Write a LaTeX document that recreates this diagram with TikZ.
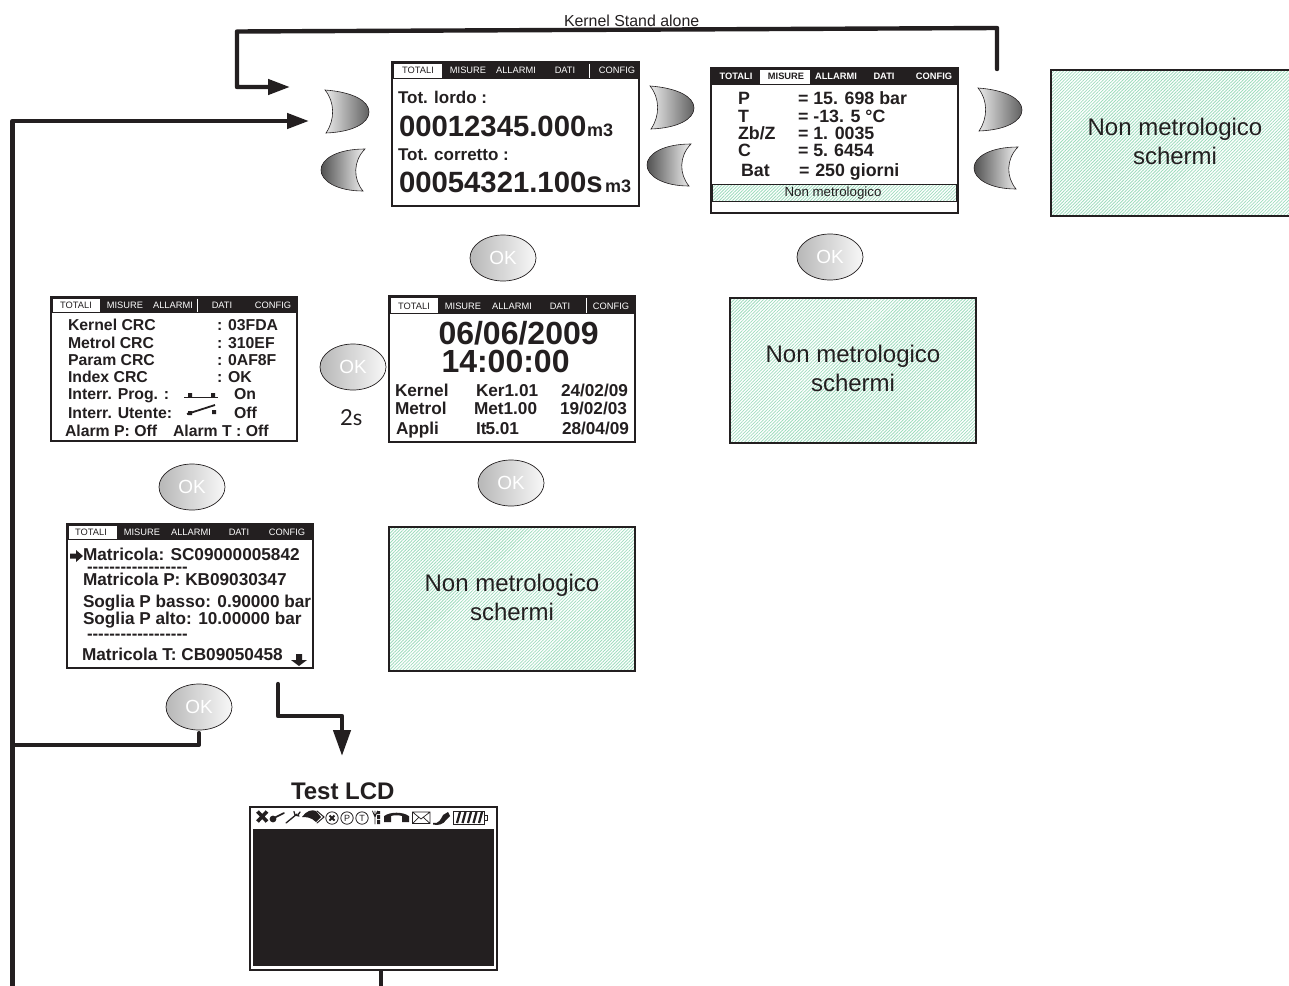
\documentclass[tikz,border=0pt]{standalone}
\usepackage{fontspec}
\setmainfont{Liberation Sans}
\newfontfamily\twosfont{Lato}
\usetikzlibrary{arrows.meta,patterns.meta,shapes.geometric}
\definecolor{ink}{HTML}{231F20}
\definecolor{hatchgreen}{HTML}{9FDCBE}
\newcounter{autoid}
\tikzset{
  x=1pt,y=-1pt,
  txt/.style={inner sep=0pt,outer sep=0pt,anchor=base west,text=ink},
  ctxt/.style={inner sep=0pt,outer sep=0pt,anchor=center},
  wire/.style={draw=ink,line width=4.4pt,line join=round,line cap=round},
  wirearrow/.style={wire,-{Triangle[length=22pt,width=15pt]}},
  screenbox/.style={draw=ink,line width=1.3pt,fill=white,inner sep=0pt,outer sep=0pt},
  hatch/.style={pattern={Lines[angle=45,distance=2.3pt,line width=.8pt]},pattern color=hatchgreen},
  okbtn/.style={shape=ellipse,draw=ink,line width=.7pt,left color=black!28,middle color=black!62,right color=black!3,
    minimum width=66pt,minimum height=46pt,inner sep=0pt,outer sep=0pt,text=white,font=\fontsize{19}{19}\selectfont},
  crescent/.style={draw=ink,line width=.6pt},
  icon/.style={draw=ink,line width=1pt,line cap=round},
}
% free text, baseline anchored
\newcommand{\T}[5][]{\stepcounter{autoid}\node[txt,font=\fontsize{#4}{#4}\selectfont#1] (t\theautoid) at (#2,#3) {#5};}
\newcommand{\B}[4]{\T[\bfseries]{#1}{#2}{#3}{#4}}
% tab label
\newcommand{\tb}[5][]{\stepcounter{autoid}\node[ctxt,text=#4,font=\fontsize{9.3}{9.3}\selectfont#1] (t\theautoid) at (#2,#3) {#5};}
% screen: name x1 y1 x2 y2 headerbottom tabx1 tabx2
\newcommand{\screen}[8]{%
  \pgfmathsetmacro{\scw}{#4-#2}\pgfmathsetmacro{\sch}{#5-#3}%
  \pgfmathsetmacro{\scx}{(#2+#4)/2}\pgfmathsetmacro{\scy}{(#3+#5)/2}%
  \node[screenbox,minimum width=\scw pt,minimum height=\sch pt] (#1) at (\scx,\scy) {};
  \fill[ink] (#2,#3) rectangle (#4,#6);
  \fill[white] (#7,#3+1.5) rectangle (#8,#6-1);
}
% crescents
\newcommand{\btnR}[3]{\path[crescent,left color=black!8,right color=black!62,shift={(#2,#3)}] (0,0) .. controls (28,2) and (44,11) .. (44,22) .. controls (44,33) and (28,42) .. (1,43) .. controls (10,30) and (10,12) .. (0,0) -- cycle;}
\newcommand{\btnL}[3]{\path[crescent,left color=black!68,right color=black!5,shift={(#2,#3)}] (0,0) .. controls (-28,0) and (-44,10) .. (-44,21) .. controls (-44,32) and (-28,42) .. (-2,42) .. controls (-12,30) and (-12,12) .. (0,0) -- cycle;}
\newcommand{\dashrow}{-{}-{}-{}-{}-{}-{}-{}-{}-{}-{}-{}-{}-{}-{}-{}-{}-{}-}
\begin{document}
\begin{tikzpicture}
\useasboundingbox (0,0) rectangle (1289,985);

% ---------- crescent buttons
\btnR{a1}{325}{90}\btnL{a2}{365}{149}
\btnR{b1}{650}{86}\btnL{b2}{691}{144}
\btnR{c1}{978}{88}\btnL{c2}{1018}{147}

% ---------- screen 1
\screen{s1}{392}{62}{639}{206}{79}{393.5}{442}
\tb{418}{70}{ink}{TOTALI}\tb{468}{70}{white}{MISURE}\tb{516}{70}{white}{ALLARMI}\tb{565}{70}{white}{DATI}\tb{617}{70}{white}{CONFIG}
\draw[white,line width=.8pt] (589,63.5) -- (589,77.5);
\B{398}{103}{17}{Tot. lordo :}
\B{399}{136}{29.3}{00012345.000}
\B{587}{136}{18}{m3}
\B{398}{160}{17}{Tot. corretto :}
\B{399}{192}{29.3}{00054321.100s}
\B{605}{192}{18}{m3}

% ---------- screen 2
\screen{s2}{711}{68}{958}{213}{85}{760}{810}
\tb[\bfseries]{736}{76}{white}{TOTALI}\tb[\bfseries]{786}{76}{ink}{MISURE}\tb[\bfseries]{836}{76}{white}{ALLARMI}\tb[\bfseries]{884}{76}{white}{DATI}\tb[\bfseries]{934}{76}{white}{CONFIG}
\B{738}{104}{17.8}{P}\B{798}{104}{17.8}{= 15. 698 bar}
\B{738}{122}{17.8}{T}\B{798}{122}{17.8}{= -13. 5 °C}
\B{738}{139}{17.8}{Zb/Z}\B{798}{139}{17.8}{= 1. 0035}
\B{738}{156}{17.8}{C}\B{798}{156}{17.8}{= 5.\,\,6454}
\B{741}{176}{17.8}{Bat}\B{799}{176}{17.8}{=\,\,250 giorni}
\draw[ink,line width=1pt,hatch] (712,184.5) rectangle (956,201);
\node[ctxt,text=ink,font=\fontsize{13.3}{13.3}\selectfont] (nmbar) at (833,193) {Non metrologico};

% ---------- screen 3
\screen{s3}{51}{297}{297}{441}{313}{52.5}{100}
\tb{76}{305}{ink}{TOTALI}\tb{125}{305}{white}{MISURE}\tb{173}{305}{white}{ALLARMI}\tb{222}{305}{white}{DATI}\tb{273}{305}{white}{CONFIG}
\draw[white,line width=.8pt] (197.5,298.5) -- (197.5,311.5);
\B{68}{330}{15.8}{Kernel CRC}\B{217}{330}{15.8}{: 03FDA}
\B{68}{348}{15.8}{Metrol CRC}\B{217}{348}{15.8}{: 310EF}
\B{68}{365}{15.8}{Param CRC}\B{217}{365}{15.8}{: 0AF8F}
\B{68}{382}{15.8}{Index CRC}\B{217}{382}{15.8}{: OK}
\B{68}{399}{15.8}{Interr. Prog. :}\B{234}{399}{15.8}{On}
\B{68}{418}{15.8}{Interr. Utente:}\B{234}{418}{15.8}{Off}
\B{65}{436}{15.8}{Alarm P: Off}\B{173}{436}{15.8}{Alarm T : Off}
\draw[ink,line width=1.8pt] (184,397.5) -- (218,397.5);
\fill[ink] (188,393) rectangle (192,397) (211,393) rectangle (215,397);
\draw[ink,line width=1.8pt] (187,414) -- (215,405);
\fill[ink] (188,411) rectangle (192,415) (212,410) rectangle (216,414);

% ---------- screen 4
\screen{s4}{389}{296}{635}{442}{314}{390.5}{438}
\tb{414}{306}{ink}{TOTALI}\tb{463}{306}{white}{MISURE}\tb{512}{306}{white}{ALLARMI}\tb{560}{306}{white}{DATI}\tb{611}{306}{white}{CONFIG}
\draw[white,line width=.8pt] (586,297.5) -- (586,312.5);
\B{438.5}{344}{32}{06/06/2009}
\B{441.5}{372}{32}{14:00:00}
\B{395}{396}{17.2}{Kernel}\B{476}{396}{17.2}{Ker1.01}\B{561}{396}{17.2}{24/02/09}
\B{395}{414}{17.2}{Metrol}\B{474}{414}{17.2}{Met1.00}\B{560}{414}{17.2}{19/02/03}
\B{396}{434}{17.2}{Appli}\B{476}{434}{17.2}{It\kern-1pt 5.01}\B{562}{434}{17.2}{28/04/09}

% ---------- screen 5
\screen{s5}{67}{524}{313}{668}{540}{68.5}{117}
\tb{91}{532}{ink}{TOTALI}\tb{142}{532}{white}{MISURE}\tb{191}{532}{white}{ALLARMI}\tb{239}{532}{white}{DATI}\tb{287}{532}{white}{CONFIG}
\fill[ink] (70,553.5) -- (76,553.5) -- (76,550) -- (83,556) -- (76,562) -- (76,558.5) -- (70,558.5) -- cycle;
\B{83}{560}{17.2}{Matricola: SC09000005842}
\B{87}{572}{16.8}{\dashrow}
\B{83}{585}{17.2}{Matricola P: KB09030347}
\B{83}{607}{17.2}{Soglia P basso: 0.90000 bar}
\B{83}{624}{17.2}{Soglia P alto: 10.00000 bar}
\B{87}{639}{16.8}{\dashrow}
\B{82}{660}{17.2}{Matricola T: CB09050458}
\fill[ink] (296,654) -- (302,654) -- (302,660) -- (307,660) -- (299,666) -- (291,660) -- (296,660) -- cycle;

% ---------- green screens
\fill[hatch] (1051,70) rectangle (1289,216);
\draw[ink,line width=1.3pt] (1289,70) -- (1051,70) -- (1051,216) -- (1289,216);
\node[ctxt,text=ink,align=center,font=\fontsize{24}{29}\selectfont] (g1) at (1175,141.5) {Non metrologico\\schermi};
\node[draw=ink,line width=1.3pt,hatch,minimum width=246pt,minimum height=145pt,inner sep=0pt,outer sep=0pt] (g2box) at (853,370.5) {};
\node[ctxt,text=ink,align=center,font=\fontsize{24}{29}\selectfont] (g2) at (853,368.5) {Non metrologico\\schermi};
\node[draw=ink,line width=1.3pt,hatch,minimum width=246pt,minimum height=144pt,inner sep=0pt,outer sep=0pt] (g3box) at (512,599) {};
\node[ctxt,text=ink,align=center,font=\fontsize{24}{29}\selectfont] (g3) at (512,597.5) {Non metrologico\\schermi};

% ---------- OK buttons
\node[okbtn] (okA) at (503,258) {OK};
\node[okbtn] (okB) at (830,257) {OK};
\node[okbtn] (okC) at (353,367) {OK};
\node[okbtn] (okD) at (511,483) {OK};
\node[okbtn] (okE) at (192,487) {OK};
\node[okbtn] (okF) at (199,707) {OK};
\node[txt,font=\twosfont\fontsize{22}{22}\selectfont] (twos) at (340,425) {2s};

% ---------- Test LCD
\B{291}{799}{24}{Test LCD}
\node[screenbox,minimum width=247pt,minimum height=163pt] (lcd) at (373.5,888.5) {};
\fill[ink] (253,829) rectangle (494,966);
% icons
\draw[ink,line width=3.6pt] (257.5,811.5) -- (267,821.5) (267,811.5) -- (257.5,821.5);
\fill[ink] (273,819) circle (3.4);
\draw[icon,line width=1.6pt] (274,818) -- (284,813);
\draw[icon,line width=1.3pt] (286,823) -- (297,814);
\draw[icon,line width=1.3pt] (294,811.5) -- (295,815) -- (299,816) (300,812) -- (298,815);
\fill[ink] (302,817) .. controls (306,811) and (312,809) .. (316,811) -- (321,817) -- (316,822) .. controls (311,817) and (306,817) .. (302,817) -- cycle;
\draw[icon,line width=1pt] (317,811) -- (324,817) -- (317,823);
\draw[icon,line width=.8pt] (332,818) circle (6.2);
\draw[ink,line width=2pt] (329.5,815.5) -- (334.5,820.5) (334.5,815.5) -- (329.5,820.5);
\draw[icon,line width=.8pt] (347,818) circle (6.2);
\node[ctxt,text=ink,font=\fontsize{9}{9}\selectfont] (iconP) at (347,818) {P};
\draw[icon,line width=.8pt] (362,818) circle (6.2);
\node[ctxt,text=ink,font=\fontsize{9}{9}\selectfont] (iconT) at (362,818) {T};
\draw[icon,line width=.8pt] (372.5,811) -- (375,817) -- (377.5,811) (375,811) -- (375,824);
\fill[ink] (377,811) rectangle (380,814) (377,815) rectangle (380,819) (377,820) rectangle (380,824);
\draw[ink,line width=2.6pt] (385,817) .. controls (391,813) and (402,813) .. (408,817);
\fill[ink] (384,816) rectangle (391,822) (402,816) rectangle (409,822);
\draw[icon,line width=.7pt] (412.5,812) rectangle (430,823.5) (412.5,812) -- (421,819) -- (430,812) (412.5,823.5) -- (419,817) (430,823.5) -- (423,817);
\fill[ink] (433,823) .. controls (439,824) and (441,819) .. (443,815) -- (448,812) -- (450,816) -- (446,820) .. controls (444,824) and (438,826) .. (433,824.5) -- cycle;
\draw[icon,line width=.9pt] (453.5,811) rectangle (484.5,824);
\draw[ink,line width=.9pt] (484.5,815) rectangle (487.5,820);
\draw[ink,line width=2.3pt] (457,823) -- (460,812) (462.5,823) -- (465.5,812) (468,823) -- (471,812) (473.5,823) -- (476.5,812) (479,823) -- (482,812);

% ---------- connectors
\coordinate (kStart) at (997,69);
\coordinate (kTopR) at (997,28);
\coordinate (kTopL) at (237,31.5);
\coordinate (kBot) at (237,87);
\coordinate (kEnd) at (290,87);
\draw[wirearrow] (kStart) -- (kTopR) -- (kTopL) -- (kBot) -- (kEnd);
\coordinate (mBot) at (12.5,990);
\coordinate (mTop) at (12.5,121);
\coordinate (mEnd) at (309,121);
\draw[wirearrow] (mBot) -- (mTop) -- (mEnd);
\coordinate (okCorner) at (199,745);
\coordinate (okJoin) at (12.5,745);
\draw[wire,line width=4pt] (okF.south) ++(0,3) -- (okCorner) -- (okJoin);
\coordinate (tA) at (278,684);
\coordinate (tB) at (278,716);
\coordinate (tC) at (342,716);
\coordinate (tD) at (342,756);
\draw[wire,-{Triangle[length=26pt,width=17pt]}] (tA) -- (tB) -- (tC) -- (tD);
\coordinate (lcdOut) at (381,990);
\draw[draw=ink,line width=3.5pt] (381,970) -- (lcdOut);
\node[txt,font=\fontsize{15.9}{15.9}\selectfont] (kernel) at (564,27) {Kernel Stand alone};
\end{tikzpicture}
\end{document}
